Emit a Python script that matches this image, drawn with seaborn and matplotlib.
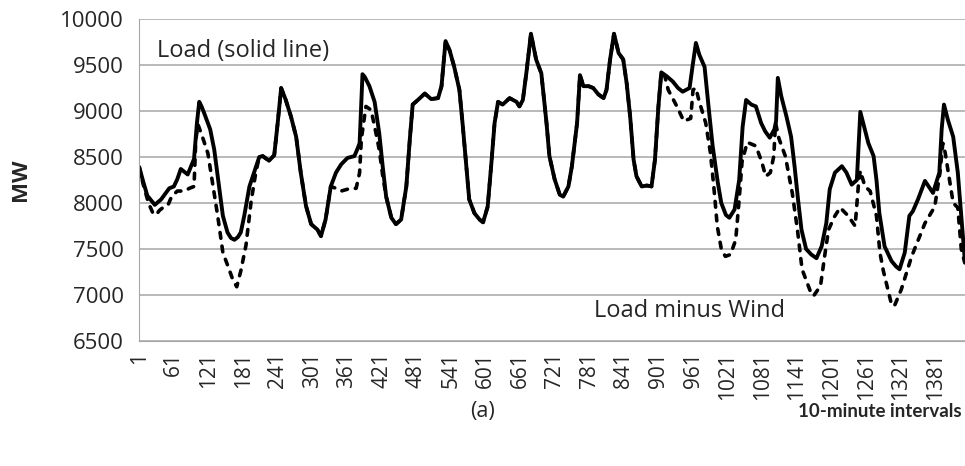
import numpy as np
import pandas as pd
import seaborn as sns
import matplotlib.pyplot as plt

# Load (solid line): 10-minute interval number and MW
load_t = [1, 8, 15, 28, 39, 53, 61, 67, 73, 85, 96, 101, 105, 109, 114, 124, 131, 140, 146, 154,
          160, 166, 172, 177, 183, 192, 200, 209, 215, 226, 235, 241, 247, 255, 264, 273, 281, 290,
          299, 310, 316, 324, 333, 342, 351, 362, 374, 380, 383, 388, 392, 400, 409, 417, 423, 429,
          438, 446, 455, 464, 470, 475, 484, 496, 507, 519, 525, 532, 539, 547, 556, 562, 568, 573,
          582, 591, 597, 605, 611, 617, 623, 631, 643, 655, 660, 666, 672, 680, 689, 698, 707, 712,
          721, 730, 736, 745, 751, 760, 765, 771, 780, 788, 797, 806, 811, 817, 824, 832, 840, 846,
          852, 858, 863, 872, 881, 889, 895, 901, 906, 915, 926, 935, 943, 955, 960, 966, 972, 981,
          989, 995, 1004, 1010, 1018, 1024, 1033, 1041, 1047, 1053, 1062, 1070, 1079, 1086, 1094,
          1102, 1105, 1108, 1114, 1123, 1131, 1137, 1143, 1149, 1157, 1166, 1175, 1184, 1192, 1198,
          1207, 1219, 1227, 1236, 1245, 1251, 1256, 1265, 1274, 1279, 1284, 1293, 1305, 1313, 1319,
          1328, 1336, 1342, 1351, 1363, 1377, 1388, 1392, 1396, 1403, 1412, 1420, 1426, 1432]
load_mw = [8390, 8230, 8080, 7980, 8040, 8160, 8180, 8260, 8370, 8310, 8480, 8870, 9100, 9050, 8970,
           8800, 8580, 8150, 7860, 7680, 7620, 7600, 7630, 7680, 7860, 8180, 8330, 8500, 8510, 8460,
           8520, 8870, 9250, 9120, 8940, 8720, 8330, 7970, 7770, 7710, 7640, 7820, 8180, 8330, 8420,
           8490, 8510, 8600, 8650, 9400, 9370, 9270, 9100, 8760, 8400, 8070, 7840, 7770, 7820, 8180,
           8690, 9070, 9120, 9190, 9130, 9140, 9270, 9760, 9660, 9480, 9230, 8830, 8400, 8040, 7890,
           7820, 7790, 7960, 8400, 8870, 9100, 9070, 9140, 9100, 9050, 9120, 9410, 9840, 9560, 9410,
           8870, 8510, 8260, 8090, 8070, 8180, 8400, 8870, 9390, 9270, 9270, 9250, 9180, 9140, 9230,
           9550, 9840, 9630, 9560, 9300, 8940, 8470, 8290, 8180, 8190, 8180, 8470, 9050, 9420, 9380,
           9320, 9250, 9210, 9250, 9480, 9740, 9610, 9480, 8980, 8620, 8220, 8000, 7870, 7840, 7930,
           8250, 8830, 9120, 9070, 9050, 8870, 8780, 8710, 8800, 8890, 9360, 9160, 8940, 8720, 8400,
           8040, 7710, 7500, 7440, 7400, 7530, 7780, 8150, 8330, 8400, 8330, 8200, 8250, 8990, 8870,
           8650, 8510, 8250, 7890, 7530, 7370, 7310, 7280, 7460, 7860, 7910, 8040, 8240, 8110, 8330,
           8800, 9070, 8900, 8720, 8330, 7860, 7390]

# Load minus Wind (dashed) where it departs from the load curve
net_t = [1, 8, 17, 24, 30, 36, 42, 51, 57, 67, 79, 88, 96, 99, 103, 111, 120, 128, 137, 146, 155,
         163, 170, 177, 186, 195, 203, 209,
         333, 342, 351, 362, 377, 383, 386, 389, 394, 403, 412, 417, 423, 429,
         906, 912, 918, 933, 945, 957, 961, 966, 971, 983, 991, 997, 1003, 1010, 1017, 1026, 1035,
         1041, 1046, 1055, 1070, 1080, 1087, 1095, 1101, 1104, 1110, 1121, 1133, 1142, 1150, 1165,
         1170, 1182, 1190, 1196, 1206, 1216, 1230, 1242, 1248, 1251, 1259, 1268, 1279, 1285, 1291,
         1305, 1310, 1322, 1340, 1363, 1380, 1389, 1394, 1398, 1412, 1420, 1426, 1432]
net_mw = [8390, 8200, 8000, 7900, 7870, 7920, 7950, 7980, 8070, 8130, 8130, 8160, 8180, 8690, 8850,
          8710, 8540, 8220, 7860, 7460, 7310, 7170, 7090, 7260, 7540, 8020, 8330, 8500,
          8180, 8160, 8130, 8150, 8160, 8330, 8690, 8830, 9050, 9010, 8740, 8580, 8300, 8070,
          9420, 9380, 9230, 9050, 8890, 8920, 9230, 9250, 9120, 8870, 8550, 8180, 7750, 7500, 7420,
          7440, 7600, 8040, 8450, 8660, 8620, 8450, 8290, 8330, 8510, 8870, 8700, 8510, 8110, 7710,
          7280, 7030, 6990, 7100, 7460, 7710, 7850, 7950, 7860, 7750, 8220, 8350, 8180, 8130, 7860,
          7460, 7260, 6900, 6880, 7060, 7420, 7780, 7960, 8330, 8650, 8550, 8000, 7950, 7500, 7350]

# intervals where there is no wind, so the two curves coincide
same_spans = [(209, 333), (429, 906)]

y_ticks = list(range(6500, 10001, 500))
x_labels = list(range(1, 1382, 60))

load = pd.DataFrame({"interval": load_t, "MW": load_mw})
net = pd.DataFrame({"interval": net_t, "MW": net_mw})
shared = pd.concat([load[(load.interval > a) & (load.interval < b)] for a, b in same_spans])
net = pd.concat([net, shared]).sort_values("interval")

sns.set_style("white")
plt.rcParams["font.family"] = ["Open Sans", "DejaVu Sans"]

fig = plt.figure(figsize=(9.65, 4.66), dpi=100)
ax = fig.add_axes([0.1440, 0.2682, 0.8608, 0.6910])

sns.lineplot(data=net, x="interval", y="MW", color="black", lw=2.6, ax=ax)
ax.lines[-1].set_linestyle((0, (1.6, 2.2)))
ax.lines[-1].set_dash_capstyle("round")
sns.lineplot(data=load, x="interval", y="MW", color="black", lw=2.8, ax=ax)
ax.lines[-1].set_solid_joinstyle("round")

grid_c = "#A6A6A6"
ax.set_xlim(0.5, 1440.5)
ax.set_ylim(6500, 10000)
ax.set_yticks(y_ticks)
ax.yaxis.grid(True, color=grid_c, lw=1.1)
ax.set_xticks(x_labels)
ax.set_xticklabels([str(v) for v in x_labels], rotation=90)
ax.set_xticks(np.arange(0.5, 1441, 120), minor=True)
ax.tick_params(axis="x", which="major", length=0, pad=8, labelsize=15)
ax.tick_params(axis="x", which="minor", length=5, width=1, color=grid_c, direction="out")
ax.tick_params(axis="y", length=5, width=1, color=grid_c, direction="out", pad=6, labelsize=16)
for s in ["top", "right"]:
    ax.spines[s].set_visible(False)
ax.spines["left"].set_color(grid_c)
ax.spines["bottom"].set_color(grid_c)
ax.set_xlabel("")
ax.set_ylabel("")

ax.text(32, 9590, "Load (solid line)", fontsize=17, va="baseline")
ax.text(790, 6757, "Load minus Wind", fontsize=17, va="baseline")

fig.text(0.021, 0.614, "MW", rotation=90, fontsize=16, fontweight="bold", ha="center", va="center")
fig.text(0.5005, 0.105, "(a)", fontsize=15.5, ha="center", va="baseline")
fig.text(0.997, 0.105, "10-minute intervals", family=["Lato", "DejaVu Sans"], fontsize=13.5,
         fontweight="bold", ha="right", va="baseline")

fig.savefig("out.png", dpi=100)
